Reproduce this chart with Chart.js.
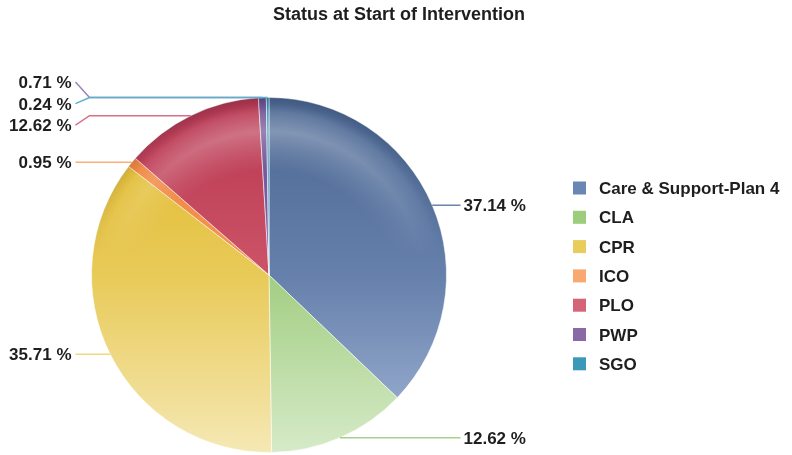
<!DOCTYPE html>
<html>
<head>
<meta charset="utf-8">
<script src="https://cdn.jsdelivr.net/npm/chart.js@4"></script>
<style>
  html, body { margin: 0; padding: 0; background: #fff; }
  #wrap { width: 792px; height: 455px; position: relative; }
</style>
</head>
<body>
<div id="wrap"><canvas id="chart"></canvas></div>
<script>
// data //
const title = 'Status at Start of Intervention';
const labels = ['Care & Support-Plan 4', 'CLA', 'CPR', 'ICO', 'PLO', 'PWP', 'SGO'];
const values = [37.14, 12.62, 35.71, 0.95, 12.62, 0.71, 0.24];

// colours: slice shading (top, middle, bottom), legend swatch, leader line //
const shades = [
    ['#4c6792', '#6580ab', '#a3b5d6'],
    ['#86bc62', '#a2ce82', '#d6eac8'],
    ['#e0b828', '#e8ca58', '#f5e8b4'],
    ['#ee7a30', '#f39a58', '#f8c090'],
    ['#b83650', '#cc5468', '#e08898'],
    ['#6e4e92', '#8466a6', '#a890c4'],
    ['#2e8eb0', '#44a2c2', '#80c4dc']
];
const swatches = ['#6a86b4', '#9ccc7c', '#e8cc5c', '#f8a870', '#d46478', '#8a6aa6', '#3a98b8'];
const lineColors = ['#6a84ac', '#a8d08d', '#f0d880', '#f9b07a', '#d87085', '#9a84b8', '#5ab0cc'];

const FONT = '"Liberation Sans", Arial, sans-serif';
const TEXT = '#1e1e1e';

// vertical gradient for each slice //
function sliceFill(context) {
    const chart = context.chart;
    const area = chart.chartArea;
    const s = shades[context.dataIndex];
    if (!area) return s[1];
    const g = chart.ctx.createLinearGradient(0, area.top, 0, area.bottom);
    g.addColorStop(0, s[0]);
    g.addColorStop(0.5, s[1]);
    g.addColorStop(1, s[2]);
    return g;
}

// push overlapping labels apart on one side //
function spread(list, gap) {
    list.sort((a, b) => Math.round(a.ey) - Math.round(b.ey) || a.i - b.i);
    const place = g => {
        const m = g.reduce((s, it) => s + it.ey, 0) / g.length;
        g.forEach((it, k) => { it.y = m + (k - (g.length - 1) / 2) * gap; });
    };
    let groups = list.map(it => [it]);
    groups.forEach(place);
    let moved = true;
    while (moved) {
        moved = false;
        for (let k = 0; k < groups.length - 1; k++) {
            const a = groups[k], b = groups[k + 1];
            if (b[0].y - a[a.length - 1].y < gap) {
                groups.splice(k, 2, a.concat(b));
                place(groups[k]);
                moved = true;
                break;
            }
        }
    }
}

const pieDecor = {
    id: 'pieDecor',
    afterDatasetsDraw(chart) {
        const ctx = chart.ctx;
        const arcs = chart.getDatasetMeta(0).data;
        if (!arcs.length) return;
        const c = arcs[0].getProps(['x', 'y', 'outerRadius'], true);
        const cx = c.x, cy = c.y, r = c.outerRadius;

        // gloss on the upper rim //
        const off = document.createElement('canvas');
        off.width = chart.width;
        off.height = chart.height;
        const o = off.getContext('2d');
        const rg = o.createRadialGradient(cx, cy + 0.6 * r, 0, cx, cy, r);
        rg.addColorStop(0, 'rgba(255,255,255,0)');
        rg.addColorStop(0.74, 'rgba(255,255,255,0)');
        rg.addColorStop(0.88, 'rgba(255,255,255,0.36)');
        rg.addColorStop(0.95, 'rgba(255,255,255,0.12)');
        rg.addColorStop(0.98, 'rgba(20,30,50,0.1)');
        rg.addColorStop(1, 'rgba(20,30,50,0.2)');
        o.fillStyle = rg;
        o.fillRect(0, 0, off.width, off.height);
        o.globalCompositeOperation = 'destination-in';
        const fade = o.createLinearGradient(0, cy - r, 0, cy - 0.1 * r);
        fade.addColorStop(0, 'rgba(0,0,0,1)');
        fade.addColorStop(1, 'rgba(0,0,0,0)');
        o.fillStyle = fade;
        o.fillRect(0, 0, off.width, off.height);
        ctx.save();
        ctx.beginPath();
        ctx.arc(cx, cy, r, 0, Math.PI * 2);
        ctx.clip();
        ctx.drawImage(off, 0, 0, chart.width, chart.height);
        ctx.restore();

        // percentage labels with leader lines //
        const items = arcs.map((arc, i) => {
            const p = arc.getProps(['startAngle', 'endAngle'], true);
            const mid = (p.startAngle + p.endAngle) / 2;
            const ex = cx + Math.cos(mid) * r;
            const ey = cy + Math.sin(mid) * r;
            return { i, ex, ey, y: ey, right: Math.cos(mid) >= 0 };
        });
        spread(items.filter(it => it.right), 21.5);
        spread(items.filter(it => !it.right), 21.5);

        ctx.save();
        ctx.lineWidth = 1.5;
        ctx.font = 'bold 17px ' + FONT;
        ctx.textBaseline = 'alphabetic';
        items.forEach(it => {
            const bendX = it.right ? cx + r + 3 : cx - r - 2;
            const endX = it.right ? cx + r + 14 : cx - r - 16;
            ctx.strokeStyle = lineColors[it.i];
            ctx.beginPath();
            ctx.moveTo(it.ex, it.ey);
            if (Math.abs(it.y - it.ey) > 0.5) ctx.lineTo(bendX, it.ey);
            ctx.lineTo(endX, it.y);
            ctx.stroke();

            ctx.fillStyle = TEXT;
            ctx.textAlign = it.right ? 'left' : 'right';
            const tx = it.right ? cx + r + 17 : cx - r - 20;
            ctx.fillText(values[it.i].toFixed(2) + ' %', tx, it.y + 6);
        });
        ctx.restore();
    },
    afterDraw(chart) {
        const ctx = chart.ctx;
        ctx.save();
        // title //
        ctx.fillStyle = TEXT;
        ctx.font = 'bold 18px ' + FONT;
        ctx.textAlign = 'center';
        ctx.textBaseline = 'alphabetic';
        ctx.fillText(title, 399, 20);

        // legend //
        ctx.font = 'bold 17px ' + FONT;
        ctx.textAlign = 'left';
        labels.forEach((lab, i) => {
            const y = 188 + i * 29.3;
            ctx.fillStyle = swatches[i];
            ctx.fillRect(573, y - 6.5, 13, 13);
            ctx.fillStyle = TEXT;
            ctx.fillText(lab, 599, y + 6);
        });
        ctx.restore();
    }
};

const chart = document.querySelector('#chart').getContext('2d');

new Chart(chart, {
    type: 'pie',
    data: {
        labels: labels,
        datasets: [
            {
                data: values,
                backgroundColor: sliceFill,
                borderColor: 'rgba(255,255,255,0.55)',
                borderWidth: 1
            }
        ]
    },
    options: {
        responsive: true,
        maintainAspectRatio: false,
        animation: false,
        layout: {
            padding: { top: 97, left: 91, right: 345, bottom: 2 }
        },
        plugins: {
            legend: { display: false },
            title: { display: false },
            tooltip: { enabled: false }
        }
    },
    plugins: [pieDecor]
});
</script>
</body>
</html>
